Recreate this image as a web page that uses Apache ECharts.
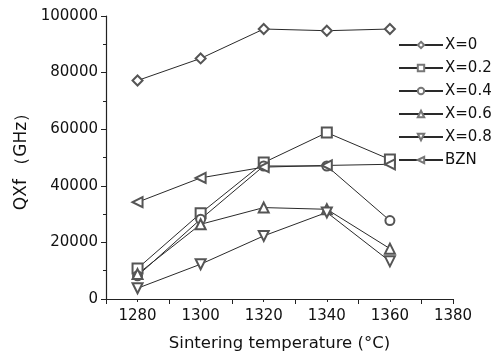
<!DOCTYPE html>
<html><head><meta charset="utf-8">
<script src="https://cdn.jsdelivr.net/npm/echarts@6/dist/echarts.min.js"></script>
<style>html,body{margin:0;padding:0;background:#fff}#c{width:499px;height:351px}</style>
</head><body><div id="c"></div>
<script>
const categories = [1280, 1300, 1320, 1340, 1360];
const seriesNames = ['X=0', 'X=0.2', 'X=0.4', 'X=0.6', 'X=0.8', 'BZN'];
const x0 = [77200, 85000, 95400, 94800, 95400];
const x02 = [10800, 30300, 48200, 58800, 49300];
const x04 = [8200, 28200, 47000, 47000, 27700];
const x06 = [8800, 26400, 32300, 31700, 17800];
const x08 = [3800, 12300, 22300, 30600, 13300];
const bzn = [34200, 42800, 46600, 47200, 47600];
const xTicks = [1280, 1300, 1320, 1340, 1360, 1380];
const yTicks = [0, 20000, 40000, 60000, 80000, 100000];

const values = [x0, x02, x04, x06, x08, bzn];
const symbols = ['emptyDiamond', 'emptyRect', 'emptyCircle', 'emptyTriangle', 'emptyTriangle', 'emptyTriangle'];
const rotations = [0, 0, 0, 0, 180, 90];
const sizes = [10, 10, 9, 10, 10, 10];
const font = 'DejaVu Sans';

const chart = echarts.init(document.getElementById('c'), null, {renderer: 'canvas'});
chart.setOption({
  backgroundColor: '#fff',
  animation: false,
  textStyle: {fontFamily: font},
  grid: {left: 106, right: 46, top: 16, bottom: 52, outerBoundsMode: 'none', containLabel: false},
  legend: {
    orient: 'vertical', left: 393, top: 31, itemWidth: 44, itemHeight: 8, itemGap: 5,
    textStyle: {fontFamily: font, fontSize: 15, color: '#111', padding: [0, 0, 0, -3], lineHeight: 18},
    data: seriesNames.map(n => ({name: n, itemStyle: {color: '#777', borderColor: '#777'}}))
  },
  xAxis: {
    type: 'value', min: 1270, max: 1380, interval: 20,
    axisLine: {lineStyle: {color: '#222', width: 1.2}},
    axisTick: {length: 5, lineStyle: {color: '#222'}},
    minorTick: {show: true, splitNumber: 2, length: 3, lineStyle: {color: '#222'}},
    splitLine: {show: false},
    axisLabel: {fontSize: 15, color: '#111', margin: 10,
      customValues: xTicks, formatter: v => String(v)},
    name: 'Sintering temperature (°C)', nameLocation: 'middle', nameGap: 36,
    nameTextStyle: {fontSize: 16.5, color: '#111'}
  },
  yAxis: {
    type: 'value', min: 0, max: 100000, interval: 20000,
    axisLine: {show: true, lineStyle: {color: '#222', width: 1.2}},
    axisTick: {show: true, length: 5, lineStyle: {color: '#222'}},
    minorTick: {show: true, splitNumber: 2, length: 3, lineStyle: {color: '#222'}},
    splitLine: {show: false},
    axisLabel: {fontSize: 15, color: '#111', margin: 8,
      customValues: yTicks, formatter: v => String(v)},
    name: 'QXf （GHz）', nameLocation: 'middle', nameGap: 73, nameRotate: 90,
    nameTextStyle: {fontSize: 17, color: '#111'}
  },
  series: seriesNames.map((n, i) => ({
    name: n, type: 'line',
    data: categories.map((c, j) => [c, values[i][j]]),
    symbol: symbols[i], symbolRotate: rotations[i], symbolSize: sizes[i],
    lineStyle: {color: '#2a2a2a', width: 1},
    itemStyle: {color: '#555', borderColor: '#555', borderWidth: 1},
    z: 2
  }))
});
</script></body></html>
